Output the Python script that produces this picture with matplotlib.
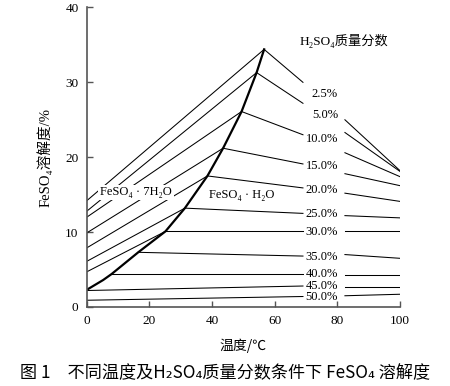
import matplotlib
matplotlib.use("Agg")
import matplotlib.pyplot as plt

serif = ["Liberation Serif", "DejaVu Serif", "Noto Sans CJK SC"]
cjk = ["Noto Sans CJK SC", "DejaVu Sans"]

# H2SO4 mass fraction of each iso-line
conc = ["2.5%", "5.0%", "10.0%", "15.0%", "20.0%", "25.0%",
        "30.0%", "35.0%", "40.0%", "45.0%", "50.0%"]

# FeSO4.7H2O / FeSO4.H2O boundary (temperature, solubility)
bound_t = [0, 5.2, 7.9, 16.4, 25.1, 31.3, 38.5, 43.5, 49.4, 54.2, 56.6]
bound_s = [2.3, 3.6, 4.4, 7.3, 10.1, 13.2, 17.5, 21.2, 26.1, 31.3, 34.4]

# heptahydrate part: solubility at 0 C (first 7 lines only)
hepta_s0 = [14.2, 12.8, 12.0, 9.9, 7.9, 6.1, 4.7]

# monohydrate part: start point, value before label, after label, at 100 C
mono_t0 = [56.6, 54.2, 49.4, 43.5, 38.5, 31.3, 25.1, 16.4, 7.9, 0, 0]
mono_s0 = [34.4, 31.3, 26.1, 21.2, 17.5, 13.2, 10.1, 7.3, 4.4, 2.2, 0.9]
s_left = [30.0, 27.2, 23.0, 19.1, 15.9, 12.5, 10.1, 6.8, 4.4, 2.8, 1.4]
s_right = [25.0, 23.3, 20.6, 17.8, 15.2, 12.2, 10.1, 7.0, 4.3, 2.7, 1.5]
s_end = [18.2, 18.1, 17.4, 16.2, 14.1, 11.9, 10.1, 6.5, 4.3, 2.7, 1.7]
label_s = [28.4, 25.7, 22.4, 18.8, 15.6, 12.4, 10.0, 6.7, 4.4, 2.8, 1.3]

t_left, t_right, t_end = 69, 82.4, 100

fig = plt.figure(figsize=(4.5, 3.86), dpi=100)
ax = fig.add_axes([0.193, 0.2047, 0.696, 0.776])

lw = 0.75
for i in range(len(hepta_s0)):
    ax.plot([0, mono_t0[i]], [hepta_s0[i], mono_s0[i]], color="black", lw=lw)

for i in range(len(conc)):
    ax.plot([mono_t0[i], t_left], [mono_s0[i], s_left[i]], color="black", lw=lw)
    ax.plot([t_right, t_end], [s_right[i], s_end[i]], color="black", lw=lw)
    ax.text(80.2, label_s[i], conc[i], ha="right", va="center",
            fontsize=9, family=serif)

ax.plot(bound_t, bound_s, color="black", lw=1.6, solid_joinstyle="round")

ax.text(15.7, 15.3, "FeSO₄ · 7H₂O", ha="center", va="center", fontsize=9,
        family=serif, zorder=5,
        bbox=dict(boxstyle="square,pad=0.15", fc="white", ec="none"))
ax.text(49.4, 14.9, "FeSO₄ · H₂O", ha="center", va="center", fontsize=9,
        family=serif)
ax.text(82, 35.5, "H₂SO₄质量分数", ha="center", va="center", fontsize=9.5,
        family=serif)

ax.set_xlim(0, 100)
ax.set_ylim(0, 40)
ax.set_xticks([0, 20, 40, 60, 80, 100])
ax.set_yticks([0, 10, 20, 30, 40])
for s in ["top", "right"]:
    ax.spines[s].set_visible(False)
for s in ["left", "bottom"]:
    ax.spines[s].set_color("#555555")
    ax.spines[s].set_linewidth(1.2)
ax.tick_params(direction="in", length=4, width=1, color="#555555",
               labelsize=9.5, pad=6)
for lab in ax.get_xticklabels() + ax.get_yticklabels():
    lab.set_family(serif)

ax.set_xlabel("温度/℃", fontsize=10, family=cjk, labelpad=8)
ax.set_ylabel("FeSO₄溶解度/%", fontsize=10.5, family=serif, labelpad=9)

fig.text(0.5, 1 - 373 / 386, "图 1　不同温度及H₂SO₄质量分数条件下 FeSO₄ 溶解度",
         ha="center", va="center", fontsize=12.3, family=cjk,
         fontweight="medium")

fig.savefig("out.png", dpi=100)
